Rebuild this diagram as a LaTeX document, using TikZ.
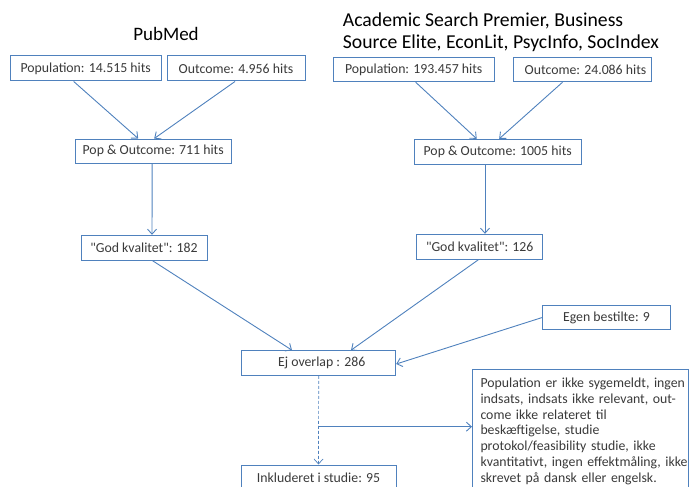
\documentclass[tikz,border=0pt]{standalone}
\usepackage{fontspec}
\setmainfont{Carlito}
\usetikzlibrary{arrows.meta,calc}
\definecolor{lineblue}{HTML}{4F81BD}
\definecolor{txtgray}{HTML}{3A3A3A}
\tikzset{
  box/.style={draw=lineblue, line width=1pt, rectangle, inner sep=0pt, text=txtgray,
    font=\fontsize{13.8}{15.8}\selectfont, fill=white},
  conn/.style={draw=lineblue, line width=0.9pt, -{Straight Barb[length=5pt,width=9pt]}},
  dconn/.style={conn, dash pattern=on 3pt off 2pt, line width=0.7pt},
  title/.style={text=black, inner sep=0pt}
}
\begin{document}
\begin{tikzpicture}[x=1pt,y=-1pt]
\useasboundingbox (0,0) rectangle (689,487);
\clip (0,0) rectangle (689,487);
% titles
\node[title, font=\fontsize{19}{22}\selectfont, anchor=base] (t1) at (166,40.7) {PubMed};
\node[title, font=\fontsize{19.7}{22.3}\selectfont, anchor=north west, align=left] (t2) at (342.7,12.5) {Academic Search Premier, Business\\Source Elite, EconLit, PsycInfo, SocIndex};
% boxes
\node[box, minimum width=150.7pt, minimum height=25pt] (pop1) at (85.7,68.5) {Population: 14.515 hits};
\node[box, minimum width=138pt, minimum height=25pt] (out1) at (236,68.5) {Outcome: 4.956 hits};
\node[box, minimum width=160.7pt, minimum height=24.5pt] (pop2) at (413.7,69.5) {Population: 193.457 hits\hspace{6pt}};
\node[box, minimum width=138.4pt, minimum height=24.5pt] (out2) at (582.5,69.5) {\hspace{6pt}Outcome: 24.086 hits};
\node[box, minimum width=156.3pt, minimum height=24.3pt] (po1) at (153.2,151.2) {Pop \& Outcome: 711 hits};
\node[box, minimum width=166.7pt, minimum height=25pt] (po2) at (497.7,151.8) {Pop \& Outcome: 1005 hits};
\node[box, minimum width=126pt, minimum height=25pt] (gk1) at (144,247.8) {\textquotedbl God kvalitet\textquotedbl: 182};
\node[box, minimum width=126pt, minimum height=25pt] (gk2) at (479.7,246.8) {\textquotedbl God kvalitet\textquotedbl: 126};
\node[box, minimum width=127.6pt, minimum height=23.6pt] (egen) at (606.5,317.5) {Egen bestilte: 9};
\node[box, minimum width=154pt, minimum height=24.6pt] (ej) at (318.7,363) {\hspace{6pt}Ej overlap : 286};
\node[box, minimum width=155pt, minimum height=25pt] (incl) at (318.5,477.5) {Inkluderet i studie: 95};
\node[box, anchor=north west, text width=200pt, inner xsep=8pt, inner ysep=8.5pt, align=left] (big) at (472,369)
 {\mbox{Population er ikke sygemeldt, ingen}\\
  \mbox{indsats, indsats ikke relevant, out-}\\
  \mbox{come ikke relateret til}\\
  \mbox{beskæftigelse, studie}\\
  \mbox{protokol/feasibility studie, ikke}\\
  \mbox{kvantitativt, ingen effektmåling, ikke}\\
  \mbox{skrevet på dansk eller engelsk.}};
% connectors
\draw[conn] ([xshift=-12pt]pop1.south) -- ([xshift=-15pt]po1.north);
\draw[conn] ([xshift=-1pt]out1.south) -- ([xshift=1pt]po1.north);
\draw[conn] ([xshift=2pt]pop2.south) -- ([xshift=-21pt]po2.north);
\draw[conn] ([xshift=-20pt]out2.south) -- ([xshift=1.5pt]po2.north);
\draw[conn] ([xshift=-1pt]po1.south) -- ([xshift=8pt]gk1.north);
\draw[conn] ([xshift=-12.7pt]po2.south) -- ([xshift=5.3pt]gk2.north);
\draw[conn] ([xshift=8.7pt]gk1.south) -- ([xshift=-26.7pt]ej.north);
\draw[conn] ([xshift=-1.4pt]gk2.south) -- ([xshift=32.3pt]ej.north);
\draw[conn] (egen.west) -- ([yshift=-1pt]ej.east);
\draw[dconn] (ej.south) -- (incl.north);
\coordinate (jn) at (318.7,426.7);
\draw[conn] (jn) -- (jn -| big.west);
\end{tikzpicture}
\end{document}
